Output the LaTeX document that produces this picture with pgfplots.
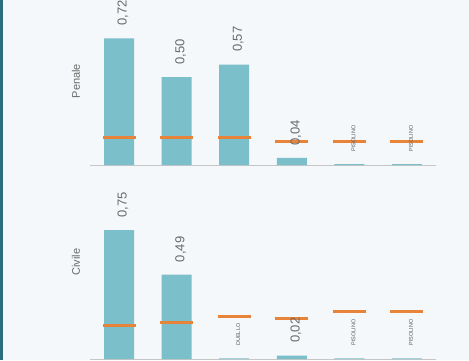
\documentclass[border=0pt]{standalone}
\usepackage{pgfplots}
\pgfplotsset{compat=1.18}
\usepackage{pgfplotstable}
\usepackage{fontspec}
\setmainfont{Liberation Sans}
\definecolor{bg}{HTML}{F4F8FA}
\definecolor{barc}{HTML}{7BBFCA}
\definecolor{orng}{HTML}{E8843A}
\definecolor{edge}{HTML}{2D6E7E}
\definecolor{txt}{HTML}{6A6A6A}
\newcommand\tl[1]{{\fontsize{5.5}{6}\selectfont\color{black!65}#1}}

% value, reference line, label
\pgfplotstableread{
x val ref lab
0 0.72  0.155 0,72
1 0.50  0.155 0,50
2 0.57  0.155 0,57
3 0.04  0.132 0,04
4 0.005 0.132 \tl{PISOLINO}
5 0.005 0.132 \tl{PISOLINO}
}\penale

\pgfplotstableread{
x val ref lab
0 0.75  0.192 0,75
1 0.49  0.215 0,49
2 0.004 0.250 \tl{DUELLO}
3 0.02  0.233 0,02
4 0.004 0.275 \tl{PISOLINO}
5 0.004 0.275 \tl{PISOLINO}
}\civile

\pgfplotsset{
  panel/.style={
    scale only axis, width=345.6pt,
    xmin=-0.5, xmax=5.5, ymin=0, ymax=0.9,
    axis x line*=bottom, axis y line=none,
    x axis line style={draw=gray!45, line width=0.8pt, -},
    xtick=\empty, ytick=\empty, clip=false,
  },
  bars/.style={ybar, bar shift=0pt, bar width=30pt, fill=barc, draw=none},
  refs/.style={only marks, mark=-, mark size=16.5pt, mark options={draw=orng, line width=3pt}},
  labs/.style={ybar, bar shift=0pt, bar width=30pt, draw=none, fill=none,
    nodes near coords, point meta=explicit symbolic,
    every node near coord/.append style={font=\fontsize{13}{15}\selectfont, text=txt,
      xshift=4pt, rotate=90, anchor=west, inner xsep=12.5pt, inner ysep=0pt}},
}

\begin{document}
\begin{tikzpicture}
\fill[bg] (0,0) rectangle (469pt,360pt);
\fill[edge] (0,0) rectangle (2.5pt,360pt);

\begin{axis}[panel, height=158.4pt, at={(90.2pt,195pt)}, anchor=south west]
  \addplot[bars] table[x=x, y=val] {\penale};
  \addplot[refs] table[x=x, y=ref] {\penale};
  \addplot[labs] table[x=x, y=val, meta=lab] {\penale};
  \node[rotate=90, text=txt, font=\fontsize{11}{13}\selectfont] at (axis description cs:-0.041,0.53) {Penale};
\end{axis}

\begin{axis}[panel, height=154.8pt, at={(90.2pt,1pt)}, anchor=south west]
  \addplot[bars] table[x=x, y=val] {\civile};
  \addplot[refs] table[x=x, y=ref] {\civile};
  \addplot[labs] table[x=x, y=val, meta=lab] {\civile};
  \node[rotate=90, text=txt, font=\fontsize{11}{13}\selectfont] at (axis description cs:-0.041,0.627) {Civile};
\end{axis}

\pgfresetboundingbox
\useasboundingbox (0,0) rectangle (469pt,360pt);
\end{tikzpicture}
\end{document}
